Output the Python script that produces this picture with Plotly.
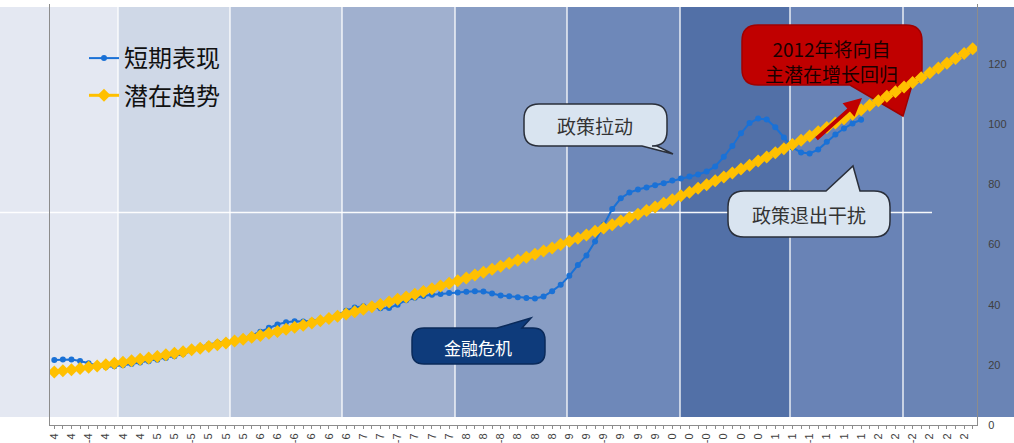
import plotly.graph_objects as go

# ---------------- data ----------------
# monthly points, Jan 2004 .. Dec 2012 (index 0..107)
trend_values = [
    17.6, 18.0, 18.4, 18.8, 19.2, 19.6, 20.0, 20.5, 20.9, 21.4,
    21.9, 22.3, 22.8, 23.4, 23.9, 24.4, 25.0, 25.5, 26.1, 26.7,
    27.3, 27.9, 28.5, 29.2, 29.8, 30.5, 31.1, 31.8, 32.5, 33.2,
    33.9, 34.7, 35.4, 36.2, 36.9, 37.7, 38.5, 39.3, 40.1, 40.9,
    41.8, 42.6, 43.5, 44.4, 45.3, 46.2, 47.1, 48.0, 48.9, 49.9,
    50.8, 51.8, 52.8, 53.8, 54.8, 55.8, 56.8, 57.9, 58.9, 60.0,
    61.1, 62.1, 63.2, 64.4, 65.5, 66.6, 67.8, 68.9, 70.1, 71.3,
    72.5, 73.7, 74.9, 76.2, 77.4, 78.7, 79.9, 81.2, 82.5, 83.8,
    85.1, 86.4, 87.8, 89.1, 90.5, 91.9, 93.3, 94.7, 96.1, 97.5,
    98.9, 100.4, 101.8, 103.3, 104.8, 106.3, 107.8, 109.3, 110.8, 112.4,
    113.9, 115.5, 117.1, 118.7, 120.3, 121.9, 123.5, 125.1,
]
short_values = [
    21.6, 21.8, 21.8, 21.3, 20.5, 19.8, 19.3, 19.5, 19.9, 20.3,
    20.8, 21.2, 21.7, 22.3, 22.9, 23.6, 24.6, 26.0, 26.8, 27.4,
    27.8, 28.1, 28.6, 29.8, 31.0, 32.3, 33.4, 34.2, 34.5, 34.4,
    34.6, 35.0, 35.7, 36.6, 38.0, 39.1, 39.5, 39.2, 38.8, 38.9,
    40.0, 41.5, 42.3, 42.9, 43.3, 43.6, 43.9, 44.1, 44.3, 44.5,
    44.4, 43.7, 43.1, 42.8, 42.5, 42.2, 42.1, 42.7, 44.5, 46.6,
    49.6, 53.2, 56.4, 61.0, 66.6, 71.8, 75.4, 77.3, 78.3, 79.0,
    79.7, 80.4, 81.3, 82.0, 82.6, 83.3, 84.3, 86.0, 89.2, 92.8,
    97.0, 100.4, 101.9, 101.6, 99.0, 95.6, 92.3, 90.6, 90.3, 91.6,
    94.2, 96.6, 98.6, 100.3, 101.5,
]
tick_labels = [
    "4", "4", "-4", "4", "4", "4",
    "5", "5", "-5", "5", "5", "5",
    "6", "6", "-6", "6", "6", "6",
    "7", "7", "-7", "7", "7", "7",
    "8", "8", "-8", "8", "8", "8",
    "9", "9", "-9", "9", "9", "9",
    "0", "0", "-0", "0", "0", "0",
    "1", "1", "-1", "1", "1", "1",
    "2", "2", "-2", "2", "2", "2",
]
series_names = ["短期表现", "潜在趋势"]

x_trend = list(range(len(trend_values)))
x_short = list(range(len(short_values)))
tick_pos = list(range(0, 2 * len(tick_labels), 2))

# ---------------- layout geometry (pixels) ----------------
W, H = 1014, 443
L, R, T, B = 50, 977, 4, 425


def px(x):
    return (x - L) / (R - L)


def py(y):
    return (B - y) / (B - T)


CJK = "Noto Sans CJK SC, Noto Sans, sans-serif"
NUM = "Liberation Sans, Arial, sans-serif"

shapes = []

# background bands (decorative backdrop)
band_edges = [0, 118, 230, 342, 455, 567, 680, 790, 903, 1014]
band_colors = ["#e4e8f2", "#cfd8e7", "#b6c3da", "#a0b0cf", "#889dc4",
               "#6e88b9", "#5270a7", "#6983b6", "#6a84b5"]
BAND_TOP, BAND_BOTTOM = 7, 417
for e0, e1, c in zip(band_edges[:-1], band_edges[1:], band_colors):
    shapes.append(dict(type="rect", xref="paper", yref="paper",
                       x0=px(e0), x1=px(e1), y0=py(BAND_BOTTOM),
                       y1=py(BAND_TOP),
                       fillcolor=c, line=dict(width=0), layer="below"))
for e in band_edges[1:-1]:
    shapes.append(dict(type="line", xref="paper", yref="paper",
                       x0=px(e), x1=px(e), y0=py(BAND_BOTTOM),
                       y1=py(BAND_TOP),
                       line=dict(color="rgba(255,255,255,0.85)", width=1.5),
                       layer="below"))
# stray white horizontal line
shapes.append(dict(type="line", xref="paper", yref="paper",
                   x0=px(0), x1=px(932), y0=py(212.5), y1=py(212.5),
                   line=dict(color="rgba(255,255,255,0.95)", width=1.5),
                   layer="below"))


def bubble(x0, y0, x1, y1, r, edge, b1, b2, tip):
    def P(x, y):
        return f"{px(x):.5f},{py(y):.5f}"
    s = f"M{P(x0 + r, y0)}"
    if edge == "top":
        s += f" L{P(b1, y0)} L{P(*tip)} L{P(b2, y0)}"
    s += f" L{P(x1 - r, y0)} Q{P(x1, y0)} {P(x1, y0 + r)}"
    s += f" L{P(x1, y1 - r)} Q{P(x1, y1)} {P(x1 - r, y1)}"
    if edge == "bottom":
        s += f" L{P(b2, y1)} L{P(*tip)} L{P(b1, y1)}"
    s += f" L{P(x0 + r, y1)} Q{P(x0, y1)} {P(x0, y1 - r)}"
    s += f" L{P(x0, y0 + r)} Q{P(x0, y0)} {P(x0 + r, y0)} Z"
    return s


callouts = [
    dict(box=(524, 104, 667, 146, 15, "bottom", 642, 657, (673, 154)),
         fill="#d9e4f0", line="#2a2f3a", text="政策拉动", cx=595, cy=126,
         color="#333333", size=19),
    dict(box=(728, 191, 890, 237, 16, "top", 826, 860, (853, 166)),
         fill="#d9e4f0", line="#2a2f3a", text="政策退出干扰", cx=809, cy=214,
         color="#333333", size=19),
    dict(box=(412, 328, 545, 364, 12, "top", 497, 522, (531, 318)),
         fill="#0e3b7b", line="#0a2a5a", text="金融危机", cx=478, cy=347,
         color="#ffffff", size=17),
    dict(box=(742, 25, 922, 85, 16, "bottom", 850, 912, (903, 116)),
         fill="#c00000", line="#a00000", text="2012年将向自<br>主潜在增长回归",
         cx=831, cy=61, color="#1a0000", size=19),
]
annotations = []
for c in callouts:
    shapes.append(dict(type="path", xref="paper", yref="paper",
                       path=bubble(*c["box"]), fillcolor=c["fill"],
                       line=dict(color=c["line"], width=1.5), layer="below"))
    annotations.append(dict(xref="paper", yref="paper", x=px(c["cx"]),
                            y=py(c["cy"]), text=c["text"], showarrow=False,
                            font=dict(family=CJK, size=c["size"],
                                      color=c["color"]),
                            xanchor="center", yanchor="middle"))

# red arrow
annotations.append(dict(xref="paper", yref="paper", axref="pixel",
                        ayref="pixel", x=px(862), y=py(98), ax=815 - 862,
                        ay=140 - 98, text="", showarrow=True, arrowhead=2,
                        arrowsize=0.9, arrowwidth=4, arrowcolor="#c00000"))

fig = go.Figure()
fig.add_trace(go.Scatter(
    x=x_short, y=short_values, name=series_names[0], mode="lines+markers",
    line=dict(color="#1a71d6", width=2),
    marker=dict(symbol="circle", size=6, color="#1a71d6"),
    legendgroup="a"))
fig.add_trace(go.Scatter(
    x=x_trend, y=trend_values, name=series_names[1], mode="lines+markers",
    line=dict(color="#ffc000", width=3),
    marker=dict(symbol="diamond", size=10, color="#ffc000"),
    legendgroup="b"))

fig.update_layout(
    width=W, height=H,
    margin=dict(l=L, r=W - R, t=T, b=H - B, pad=0),
    paper_bgcolor="white", plot_bgcolor="rgba(0,0,0,0)",
    showlegend=True,
    legend=dict(x=px(84), y=py(36), xanchor="left", yanchor="top",
                bgcolor="rgba(0,0,0,0)", font=dict(family=CJK, size=24,
                                                   color="#111111"),
                traceorder="grouped", tracegroupgap=3, itemwidth=30),
    shapes=shapes, annotations=annotations,
    xaxis=dict(range=[-0.5, len(trend_values) - 0.5], tickmode="array",
               tickvals=tick_pos, ticktext=tick_labels, tickangle=-90,
               tickfont=dict(family=NUM, size=11, color="#404040"),
               showgrid=False, zeroline=False, showline=True,
               linecolor="#8c8c8c", linewidth=1, ticks="outside", ticklen=3,
               tickcolor="#8c8c8c",
               minor=dict(dtick=1, tick0=0, ticks="outside", ticklen=3,
                          tickcolor="#8c8c8c"),
               automargin=False),
    yaxis=dict(range=[0, 140], dtick=20, side="right", showgrid=False,
               zeroline=False, showline=True, mirror=True,
               linecolor="#8c8c8c", linewidth=1, ticks="",
               ticklabelstandoff=8,
               tickfont=dict(family=NUM, size=11, color="#404040"),
               automargin=False),
)

fig.write_html(
    "out.html",
    config={"displayModeBar": False},
    post_script="document.body.style.margin='0';"
                "document.body.style.overflow='hidden';",
)
